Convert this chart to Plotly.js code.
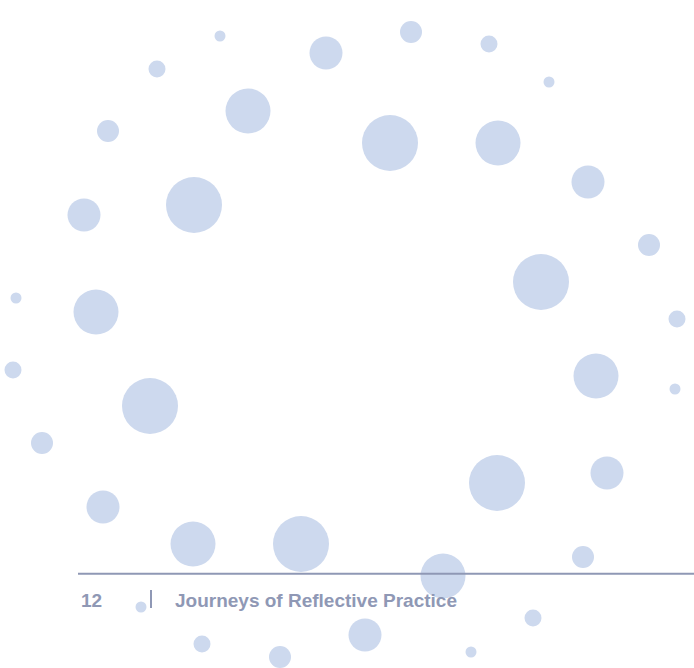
<!DOCTYPE html>
<html>
<head>
<meta charset="utf-8">
<script src="https://cdn.plot.ly/plotly-3.0.1.min.js"></script>
<style>
  html, body { margin: 0; padding: 0; background: #ffffff; }
  #chart { width: 694px; height: 668px; }
</style>
</head>
<body>
<div id="chart"></div>
<script>
// Bubble positions (page coordinates) and diameters
const bubbleX = [220, 157, 326, 248, 411, 489, 549, 498, 588, 390, 108, 194, 84, 649, 541, 677, 596, 675, 16, 96, 13, 150, 42, 103, 193, 301, 497, 607, 583, 443, 141, 202, 365, 280, 471, 533];
const bubbleY = [36, 69, 53, 111, 32, 44, 82, 143, 182, 143, 131, 205, 215, 245, 282, 319, 376, 389, 298, 312, 370, 406, 443, 507, 544, 544, 483, 473, 557, 576, 607, 644, 635, 657, 652, 618];
const bubbleD = [11, 17, 33, 45, 22, 17, 11, 45, 33, 56, 22, 56, 33, 22, 56, 17, 45, 11, 11, 45, 17, 56, 22, 33, 45, 56, 56, 33, 22, 45, 11, 17, 33, 22, 11, 17];

// Footer texts
const pageNumber = "12";
const footerTitle = "Journeys of Reflective Practice";

const textColor = "rgb(143,152,181)";

const trace = {
  type: "scatter",
  mode: "markers",
  x: bubbleX,
  y: bubbleY,
  marker: {
    size: bubbleD,
    sizemode: "diameter",
    color: "rgb(205,217,238)",
    opacity: 1,
    line: { width: 0 }
  },
  hoverinfo: "skip",
  showlegend: false
};

const layout = {
  width: 694,
  height: 668,
  margin: { l: 0, r: 0, t: 0, b: 0, pad: 0 },
  paper_bgcolor: "#ffffff",
  plot_bgcolor: "#ffffff",
  xaxis: { range: [0, 694], visible: false, showgrid: false, zeroline: false, fixedrange: true },
  yaxis: { range: [668, 0], visible: false, showgrid: false, zeroline: false, fixedrange: true },
  showlegend: false,
  shapes: [
    { type: "line", xref: "x", yref: "y", x0: 78, x1: 694, y0: 573.7, y1: 573.7,
      line: { color: textColor, width: 2 }, layer: "above" },
    { type: "line", xref: "x", yref: "y", x0: 151, x1: 151, y0: 590, y1: 608,
      line: { color: textColor, width: 2 }, layer: "above" }
  ],
  annotations: [
    { text: pageNumber, x: 79, y: 600, xref: "x", yref: "y", xanchor: "left", yanchor: "middle",
      showarrow: false, font: { family: "Liberation Sans, Arial, sans-serif", size: 19, color: textColor, weight: "bold" } },
    { text: footerTitle, x: 173, y: 600, xref: "x", yref: "y", xanchor: "left", yanchor: "middle",
      showarrow: false, font: { family: "Liberation Sans, Arial, sans-serif", size: 19, color: textColor, weight: "bold" } }
  ]
};

Plotly.newPlot("chart", [trace], layout, { staticPlot: true, displayModeBar: false });
</script>
</body>
</html>
